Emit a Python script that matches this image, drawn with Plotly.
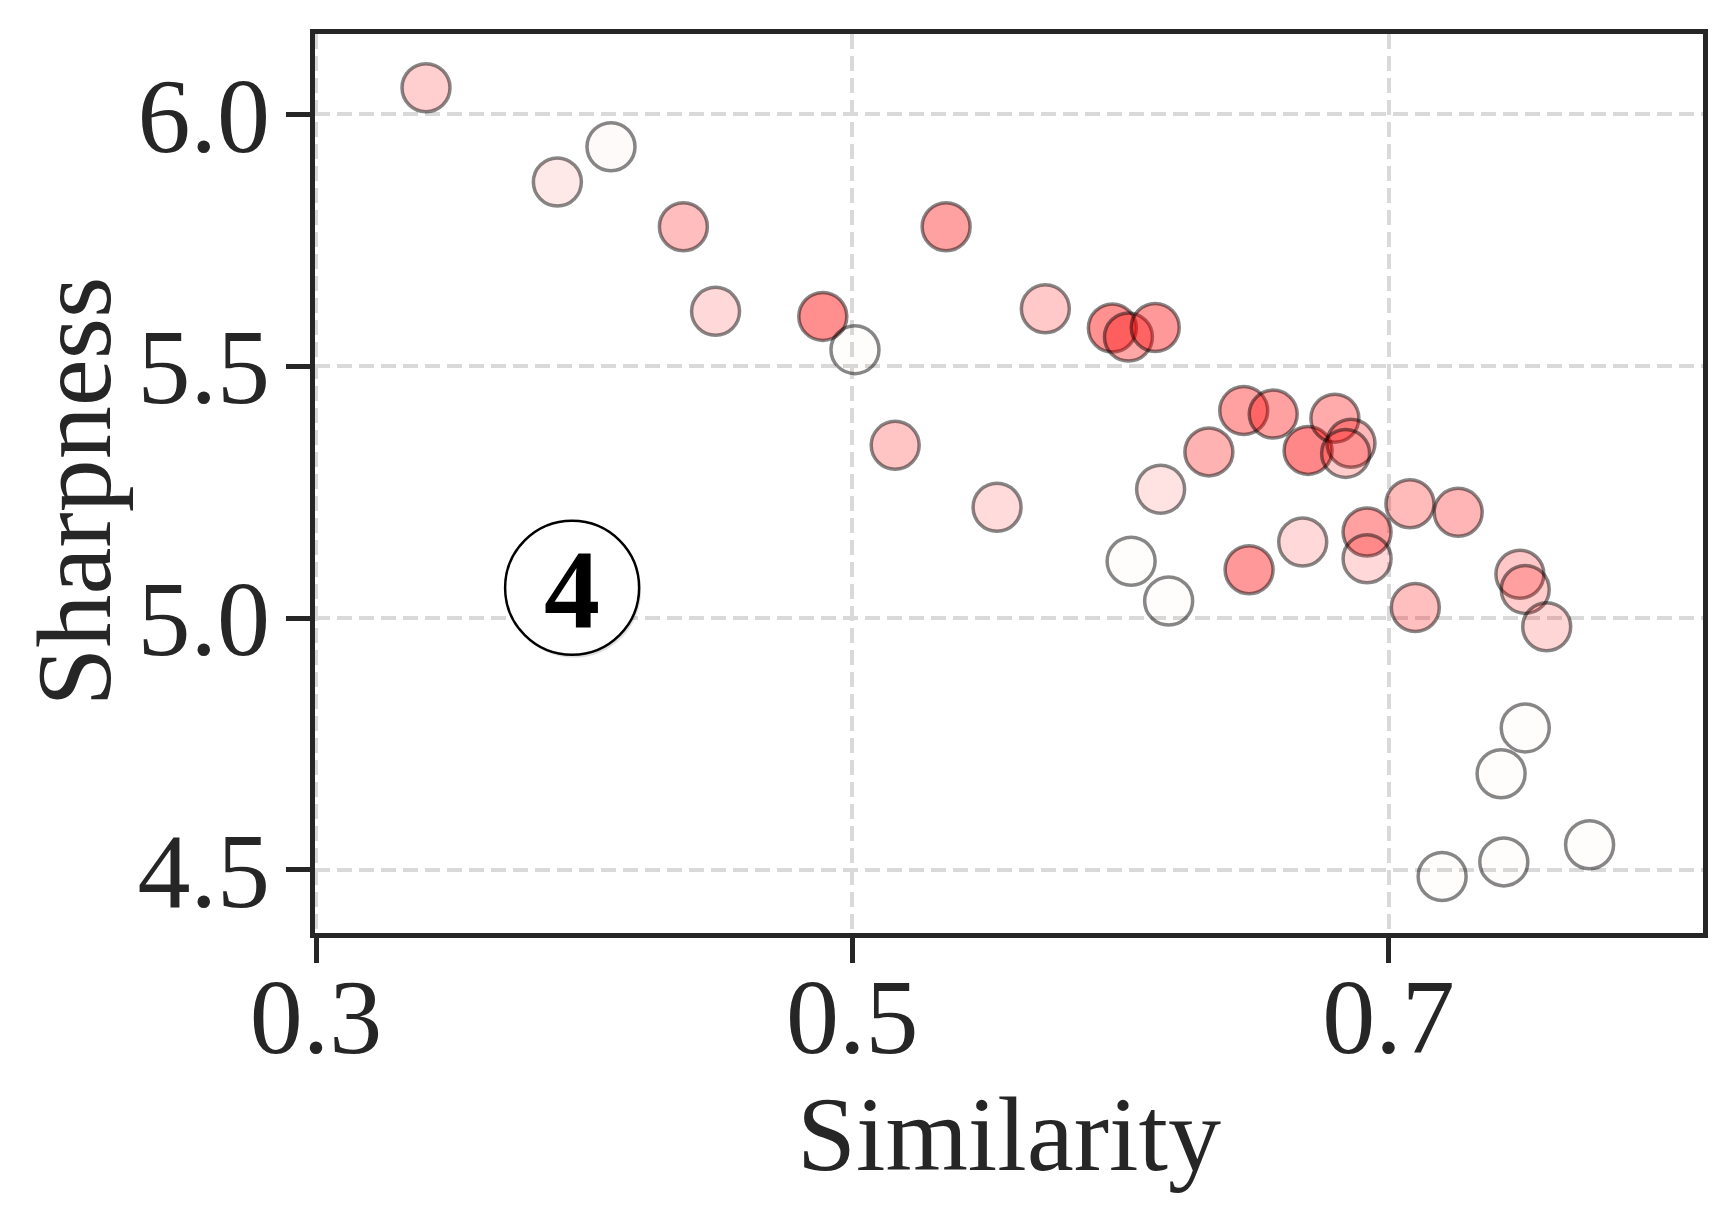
import plotly.graph_objects as go

# similarity vs sharpness, colour intensity = third score
similarity = [0.341, 0.390, 0.410, 0.437, 0.449, 0.489, 0.501, 0.535, 0.516, 0.554,
              0.572, 0.597, 0.603, 0.613, 0.615, 0.604, 0.618, 0.633, 0.646, 0.657,
              0.648, 0.668, 0.670, 0.680, 0.686, 0.684, 0.692, 0.692, 0.708, 0.726,
              0.710, 0.749, 0.751, 0.759, 0.751, 0.742, 0.743, 0.720, 0.775]
sharpness = [6.053, 5.866, 5.936, 5.777, 5.609, 5.599, 5.533, 5.777, 5.343, 5.220,
             5.614, 5.576, 5.558, 5.577, 5.256, 5.113, 5.034, 5.330, 5.412, 5.405,
             5.096, 5.151, 5.333, 5.397, 5.347, 5.327, 5.171, 5.118, 5.227, 5.210,
             5.021, 5.087, 5.057, 4.983, 4.782, 4.691, 4.516, 4.487, 4.550]
intensity = [0.19, 0.09, 0.02, 0.26, 0.15, 0.44, 0.01, 0.37, 0.23, 0.14,
             0.21, 0.43, 0.35, 0.40, 0.11, 0.01, 0.01, 0.30, 0.37, 0.37,
             0.40, 0.15, 0.47, 0.33, 0.28, 0.20, 0.37, 0.15, 0.27, 0.29,
             0.25, 0.22, 0.20, 0.16, 0.01, 0.01, 0.01, 0.01, 0.01]

x_ticks = [0.3, 0.5, 0.7]
y_ticks = [4.5, 5.0, 5.5, 6.0]
panel_label = '4'

ink = '#262626'
serif = 'Liberation Serif, Times New Roman, serif'

fill = ['rgba(255,0,0,%.3f)' % a for a in intensity]

fig = go.Figure()
fig.add_trace(go.Scatter(
    x=similarity, y=sharpness, mode='markers',
    marker=dict(size=48, color=fill,
                line=dict(color='rgba(0,0,0,0.47)', width=3.5)),
    showlegend=False, hoverinfo='x+y'))

# circled panel number
cx, cy = 0.3955, 5.0603
fig.add_shape(type='circle', xref='x', yref='y', xsizemode='pixel', ysizemode='pixel',
              xanchor=cx, yanchor=cy, x0=-65, x1=69, y0=-70, y1=64,
              line=dict(width=0), fillcolor='rgba(0,0,0,0.12)', layer='above')
fig.add_shape(type='circle', xref='x', yref='y', xsizemode='pixel', ysizemode='pixel',
              xanchor=cx, yanchor=cy, x0=-67, x1=67, y0=-67, y1=67,
              line=dict(color='black', width=2.5), fillcolor='white', layer='above')
fig.add_annotation(x=cx, y=cy, text='<b>%s</b>' % panel_label, showarrow=False,
                   font=dict(family=serif, size=112, color='black'), yshift=-2)

# y title as rotated text left of the tick labels
fig.add_annotation(xref='paper', yref='paper', x=0, y=0.5, xshift=-241, yshift=-8,
                   xanchor='center', yanchor='middle', textangle=-90, showarrow=False,
                   text='Sharpness', font=dict(size=106, family=serif, color=ink))

fig.update_layout(
    width=1735, height=1210,
    margin=dict(l=307, r=40, t=26, b=285),
    plot_bgcolor='white', paper_bgcolor='white',
    font=dict(family=serif, color=ink),
)
fig.update_xaxes(
    range=[0.2996, 0.8173], tickvals=x_ticks, ticktext=['%.1f' % v for v in x_ticks],
    ticks='outside', ticklen=25, tickwidth=4.5, tickcolor=ink, ticklabelstandoff=-37,
    showline=True, linewidth=4.5, linecolor=ink, mirror=True, automargin=False,
    showgrid=True, gridcolor='#d9d9d9', gridwidth=3.5, griddash='15px,7px',
    zeroline=False, tickfont=dict(size=106, family=serif, color=ink),
    title=dict(text='Similarity', font=dict(size=106, family=serif, color=ink), standoff=0),
)
fig.update_yaxes(
    range=[4.3748, 6.1597], tickvals=y_ticks, ticktext=['%.1f' % v for v in y_ticks],
    ticks='outside', ticklen=24, tickwidth=4.5, tickcolor=ink, ticklabelstandoff=-5,
    showline=True, linewidth=4.5, linecolor=ink, mirror=True, automargin=False,
    showgrid=True, gridcolor='#d9d9d9', gridwidth=3.5, griddash='15px,7px',
    zeroline=False, tickfont=dict(size=106, family=serif, color=ink),
)

fig.write_html('out.html')
